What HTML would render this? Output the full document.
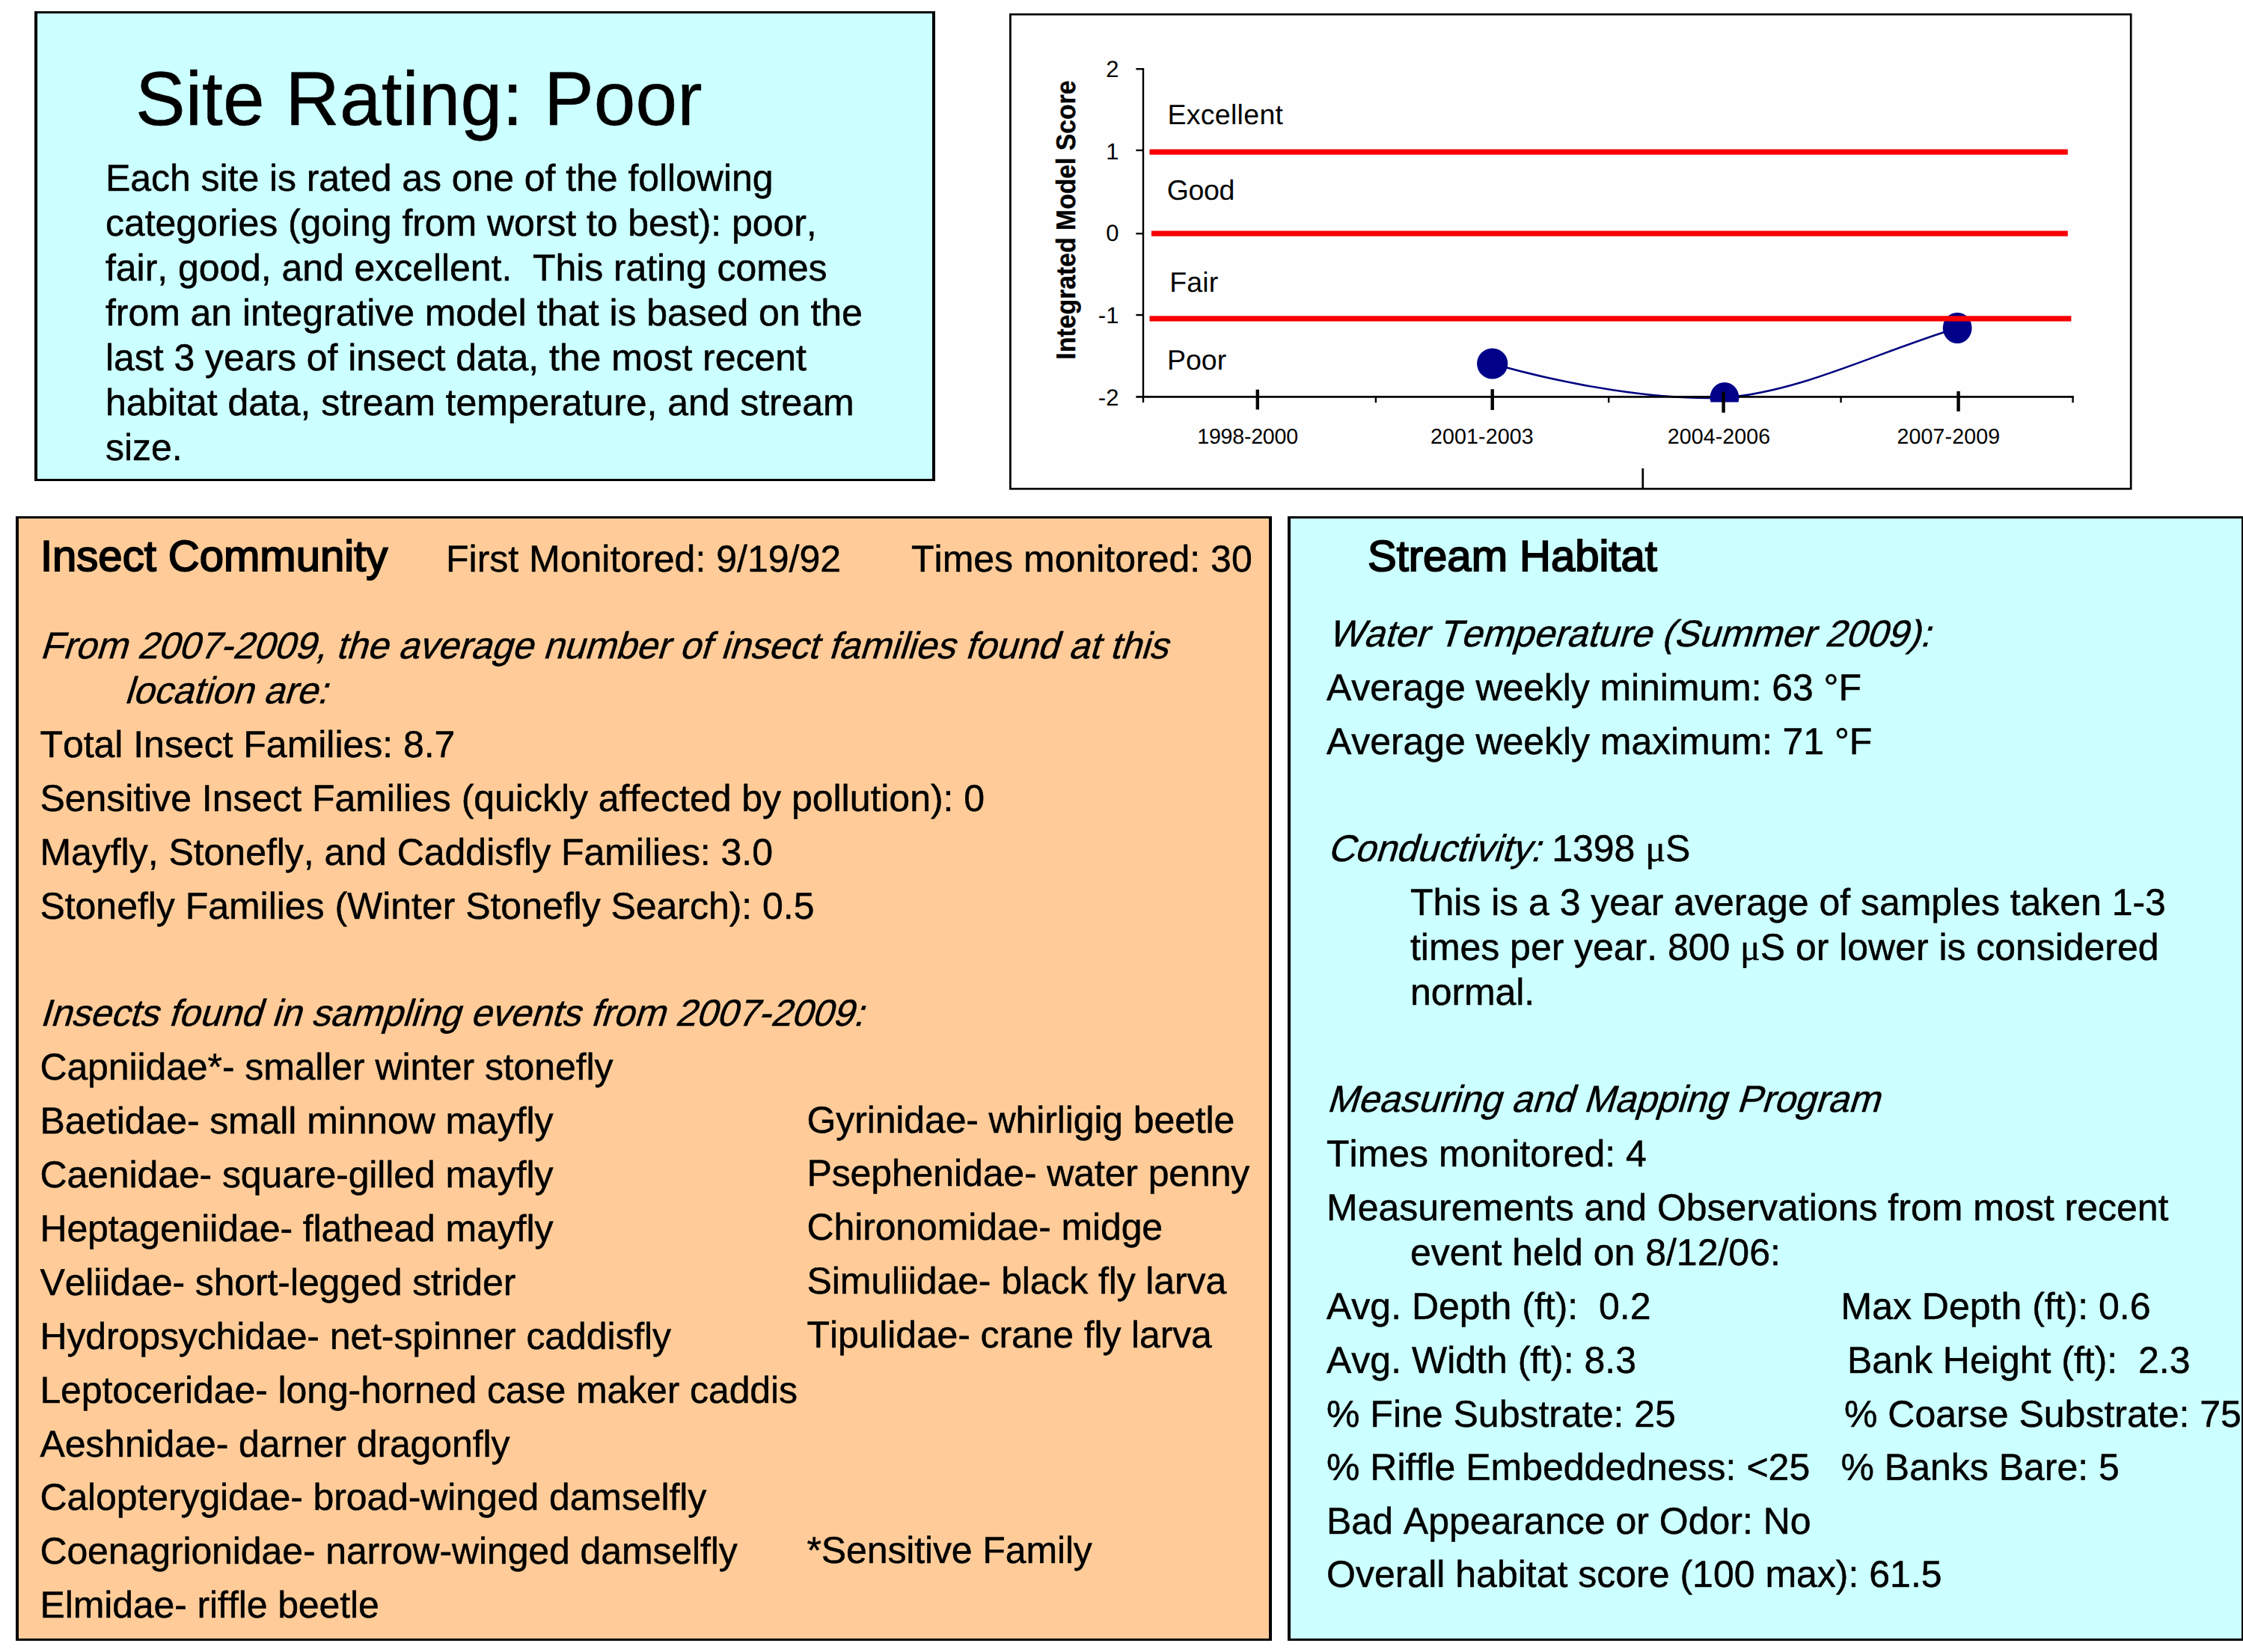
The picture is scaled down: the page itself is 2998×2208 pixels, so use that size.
<!DOCTYPE html>
<html lang="en">
<head>
<meta charset="utf-8">
<title>Site Rating: Poor</title>
<style>
html,body{margin:0;padding:0;background:#ffffff;}
body{width:2998px;height:2208px;position:relative;overflow:hidden;font-family:"Liberation Sans",sans-serif;color:#000;font-kerning:none;font-variant-ligatures:none;text-rendering:geometricPrecision;}
.panel{position:absolute;box-sizing:border-box;border-style:solid;border-color:#000;margin:0;}
.t{position:absolute;white-space:pre;font-size:50px;line-height:60px;margin:0;-webkit-text-stroke:0.5px #000;}
.title{font-size:100px;line-height:120px;transform:scaleY(1.02);transform-origin:0 94.65px;}
.hd{font-size:58px;line-height:70px;-webkit-text-stroke:1.9px #000;}
.it, i{font-style:normal;display:inline-block;transform:skewX(-17.07deg) scaleX(0.995);transform-origin:0 47.33px;}
.t.it{display:block;}
.mu{font-family:"Liberation Serif",serif;}
.chart{position:absolute;left:1340px;top:0;}
.chart text{font-family:"Liberation Sans",sans-serif;fill:#000;}
</style>
</head>
<body>
<section class="panel rating" style="left:46px;top:15px;width:1204px;height:628px;border-width:3px 4px 3px 4px;background:#ccffff;">
<div class="t title" id="title" style="left:131.00px;top:55.35px;letter-spacing:0.100px;">Site Rating: Poor</div>
<div class="t" id="p0" style="left:91.00px;top:189.68px;letter-spacing:-0.060px;">Each site is rated as one of the following</div>
<div class="t" id="p1" style="left:91.00px;top:249.68px;letter-spacing:-0.060px;">categories (going from worst to best): poor,</div>
<div class="t" id="p2" style="left:91.00px;top:309.68px;letter-spacing:-0.060px;">fair, good, and excellent.  This rating comes</div>
<div class="t" id="p3" style="left:91.00px;top:369.68px;letter-spacing:-0.060px;">from an integrative model that is based on the</div>
<div class="t" id="p4" style="left:91.00px;top:429.68px;letter-spacing:-0.060px;">last 3 years of insect data, the most recent</div>
<div class="t" id="p5" style="left:91.00px;top:489.68px;letter-spacing:-0.060px;">habitat data, stream temperature, and stream</div>
<div class="t" id="p6" style="left:91.00px;top:549.67px;letter-spacing:-0.060px;">size.</div>
</section>
<figure style="margin:0">
<svg class="chart" width="1540" height="680" viewBox="1340 0 1540 680">
<rect x="1350.4" y="19.2" width="1497.8" height="634.1" fill="#fefefe" stroke="#000" stroke-width="2.7"/>
<!-- smoothed series line -->
<path d="M1994.7 486 C2100 516 2215 535 2305 531.5 C2408.5 523.6 2512.3 469.4 2616 438.4" fill="none" stroke="#000080" stroke-width="2.6"/>
<!-- axes -->
<line x1="1528" y1="91" x2="1528" y2="538" stroke="#000" stroke-width="2.4"/>
<line x1="1518.4" y1="530.4" x2="2772" y2="530.4" stroke="#000" stroke-width="2.9"/>
<g stroke="#000" stroke-width="2.4">
<line x1="1518.4" y1="92.2" x2="1528" y2="92.2"/>
<line x1="1518.4" y1="200.9" x2="1528" y2="200.9"/>
<line x1="1518.4" y1="312.2" x2="1528" y2="312.2"/>
<line x1="1518.4" y1="421" x2="1528" y2="421"/>
<line x1="1838.9" y1="530" x2="1838.9" y2="538.2"/>
<line x1="2150.2" y1="530" x2="2150.2" y2="538.2"/>
<line x1="2460.6" y1="530" x2="2460.6" y2="538.2"/>
<line x1="2770.6" y1="530" x2="2770.6" y2="538.2"/>
</g>
<!-- data points -->
<clipPath id="plotclip"><rect x="1500" y="60" width="1300" height="477.6"/></clipPath>
<g fill="#000088">
<ellipse cx="1994.7" cy="486" rx="20.6" ry="20.6"/>
<ellipse cx="2305" cy="531.5" rx="19.4" ry="20.5" clip-path="url(#plotclip)"/>
<ellipse cx="2616.2" cy="438.4" rx="19.4" ry="20.6"/>
</g>
<!-- rating thresholds -->
<g stroke="#f80000" stroke-width="7.2">
<line x1="1536.5" y1="203.1" x2="2763.8" y2="203.1"/>
<line x1="1539" y1="312.2" x2="2763.8" y2="312.2"/>
<line x1="1536.5" y1="425.9" x2="2768.4" y2="425.9"/>
</g>
<!-- category ticks -->
<g stroke="#000" stroke-width="4.4">
<line x1="1680.8" y1="520.7" x2="1680.8" y2="547.4"/>
<line x1="1994.7" y1="520.2" x2="1994.7" y2="548"/>
<line x1="2303.6" y1="523.4" x2="2303.6" y2="551.6"/>
<line x1="2617.6" y1="522.9" x2="2617.6" y2="549.8"/>
</g>
<line x1="2195.8" y1="626" x2="2195.8" y2="653" stroke="#000" stroke-width="2.7"/>
<g font-size="31" text-anchor="end">
<text x="1495.4" y="103.3">2</text>
<text x="1495.4" y="212.9">1</text>
<text x="1495.4" y="322.4">0</text>
<text x="1495.4" y="432">-1</text>
<text x="1495.4" y="541.9">-2</text>
</g>
<g font-size="37.5">
<text x="1560.4" y="166.2" letter-spacing="0.3">Excellent</text>
<text x="1559.8" y="267.3" letter-spacing="-0.4">Good</text>
<text x="1563.3" y="389.9" letter-spacing="0.1">Fair</text>
<text x="1560" y="494.3">Poor</text>
</g>
<g font-size="28.6" letter-spacing="0.1">
<text x="1600.3" y="593.1" letter-spacing="-0.25">1998-2000</text>
<text x="1912" y="593.1">2001-2003</text>
<text x="2228.7" y="593.1">2004-2006</text>
<text x="2535.6" y="593.1">2007-2009</text>
</g>
<text font-size="36" font-weight="bold" stroke="#000" stroke-width="0.4" transform="translate(1436.9 480.4) rotate(-90)" textLength="373" lengthAdjust="spacingAndGlyphs">Integrated Model Score</text>
</svg>

</figure>
<section class="panel insect" style="left:21px;top:690px;width:1679px;height:1503px;border-width:3px 4px 3px 4px;background:#ffcc99;">
<div class="t hd" id="ih" style="left:29.00px;top:15.50px;">Insect Community</div>
<div class="t" id="ih2" style="left:571.00px;top:23.97px;">First Monitored: 9/19/92</div>
<div class="t" id="ih3" style="left:1193.00px;top:23.97px;">Times monitored: 30</div>
<div class="t it" id="i1" style="left:27.80px;top:140.17px;">From 2007-2009, the average number of insect families found at this</div>
<div class="t it" id="i2" style="left:141.10px;top:200.07px;">location are:</div>
<div class="t" id="il0" style="left:28.40px;top:271.88px;letter-spacing:-0.030px;">Total Insect Families: 8.7</div>
<div class="t" id="il1" style="left:28.40px;top:343.78px;letter-spacing:-0.030px;">Sensitive Insect Families (quickly affected by pollution): 0</div>
<div class="t" id="il2" style="left:28.40px;top:415.67px;letter-spacing:-0.030px;">Mayfly, Stonefly, and Caddisfly Families: 3.0</div>
<div class="t" id="il3" style="left:28.40px;top:487.58px;letter-spacing:-0.030px;">Stonefly Families (Winter Stonefly Search): 0.5</div>
<div class="t" id="il6" style="left:28.40px;top:703.28px;letter-spacing:-0.110px;">Capniidae*- smaller winter stonefly</div>
<div class="t" id="il7" style="left:28.40px;top:775.17px;letter-spacing:-0.110px;">Baetidae- small minnow mayfly</div>
<div class="t" id="il8" style="left:28.40px;top:847.08px;letter-spacing:-0.110px;">Caenidae- square-gilled mayfly</div>
<div class="t" id="il9" style="left:28.40px;top:918.98px;letter-spacing:-0.110px;">Heptageniidae- flathead mayfly</div>
<div class="t" id="il10" style="left:28.40px;top:990.88px;letter-spacing:-0.110px;">Veliidae- short-legged strider</div>
<div class="t" id="il11" style="left:28.40px;top:1062.78px;letter-spacing:-0.110px;">Hydropsychidae- net-spinner caddisfly</div>
<div class="t" id="il12" style="left:28.40px;top:1134.67px;letter-spacing:-0.110px;">Leptoceridae- long-horned case maker caddis</div>
<div class="t" id="il13" style="left:28.40px;top:1206.58px;letter-spacing:-0.110px;">Aeshnidae- darner dragonfly</div>
<div class="t" id="il14" style="left:28.40px;top:1278.48px;letter-spacing:-0.110px;">Calopterygidae- broad-winged damselfly</div>
<div class="t" id="il15" style="left:28.40px;top:1350.37px;letter-spacing:-0.110px;">Coenagrionidae- narrow-winged damselfly</div>
<div class="t" id="il16" style="left:28.40px;top:1422.28px;letter-spacing:-0.110px;">Elmidae- riffle beetle</div>
<div class="t it" id="il5" style="left:27.50px;top:631.38px;">Insects found in sampling events from 2007-2009:</div>
<div class="t" id="ir7" style="left:1053.50px;top:773.58px;letter-spacing:-0.130px;">Gyrinidae- whirligig beetle</div>
<div class="t" id="ir8" style="left:1053.50px;top:845.48px;letter-spacing:-0.130px;">Psephenidae- water penny</div>
<div class="t" id="ir9" style="left:1053.50px;top:917.38px;letter-spacing:-0.130px;">Chironomidae- midge</div>
<div class="t" id="ir10" style="left:1053.50px;top:989.27px;letter-spacing:-0.130px;">Simuliidae- black fly larva</div>
<div class="t" id="ir11" style="left:1053.50px;top:1061.17px;letter-spacing:-0.130px;">Tipulidae- crane fly larva</div>
<div class="t" id="ir15" style="left:1053.50px;top:1348.77px;letter-spacing:-0.130px;">*Sensitive Family</div>
</section>
<section class="panel habitat" style="left:1721px;top:690px;width:1278.5px;height:1503px;border-width:3px 4px 3px 4px;background:#ccffff;">
<div class="t hd" id="hh" style="left:103.00px;top:15.50px;">Stream Habitat</div>
<div class="t it" id="h1" style="left:50.00px;top:124.07px;">Water Temperature (Summer 2009):</div>
<div class="t" id="h2" style="left:48.00px;top:196.17px;letter-spacing:-0.090px;">Average weekly minimum: 63 °F</div>
<div class="t" id="h3" style="left:48.00px;top:267.97px;letter-spacing:-0.070px;">Average weekly maximum: 71 °F</div>
<div class="t" id="h4" style="left:49.00px;top:411.38px;"><i>Conductivity:</i> 1398 <span class="mu">μ</span>S</div>
<div class="t" id="h5" style="left:160.00px;top:483.47px;letter-spacing:-0.040px;">This is a 3 year average of samples taken 1-3</div>
<div class="t" id="h6" style="left:160.00px;top:543.27px;letter-spacing:-0.040px;">times per year. 800 <span class="mu">μ</span>S or lower is considered</div>
<div class="t" id="h7" style="left:160.00px;top:603.08px;letter-spacing:-0.100px;">normal.</div>
<div class="t it" id="h8" style="left:48.30px;top:746.47px;">Measuring and Mapping Program</div>
<div class="t" id="h9" style="left:48.00px;top:818.67px;">Times monitored: 4</div>
<div class="t" id="h10" style="left:48.00px;top:890.67px;">Measurements and Observations from most recent</div>
<div class="t" id="h11" style="left:160.00px;top:950.67px;">event held on 8/12/06:</div>
<div class="t" id="h12" style="left:48.00px;top:1022.67px;">Avg. Depth (ft):  0.2</div>
<div class="t" id="h12b" style="left:735.50px;top:1022.67px;">Max Depth (ft): 0.6</div>
<div class="t" id="h13" style="left:48.00px;top:1094.67px;">Avg. Width (ft): 8.3</div>
<div class="t" id="h13b" style="left:744.00px;top:1094.67px;">Bank Height (ft):  2.3</div>
<div class="t" id="h14" style="left:48.00px;top:1166.67px;">% Fine Substrate: 25</div>
<div class="t" id="h14b" style="left:740.00px;top:1166.67px;">% Coarse Substrate: 75</div>
<div class="t" id="h15" style="left:48.00px;top:1238.17px;">% Riffle Embeddedness: &lt;25</div>
<div class="t" id="h15b" style="left:735.50px;top:1238.17px;">% Banks Bare: 5</div>
<div class="t" id="h16" style="left:48.00px;top:1310.17px;">Bad Appearance or Odor: No</div>
<div class="t" id="h17" style="left:48.00px;top:1381.38px;">Overall habitat score (100 max): 61.5</div>
</section>
</body>
</html>
